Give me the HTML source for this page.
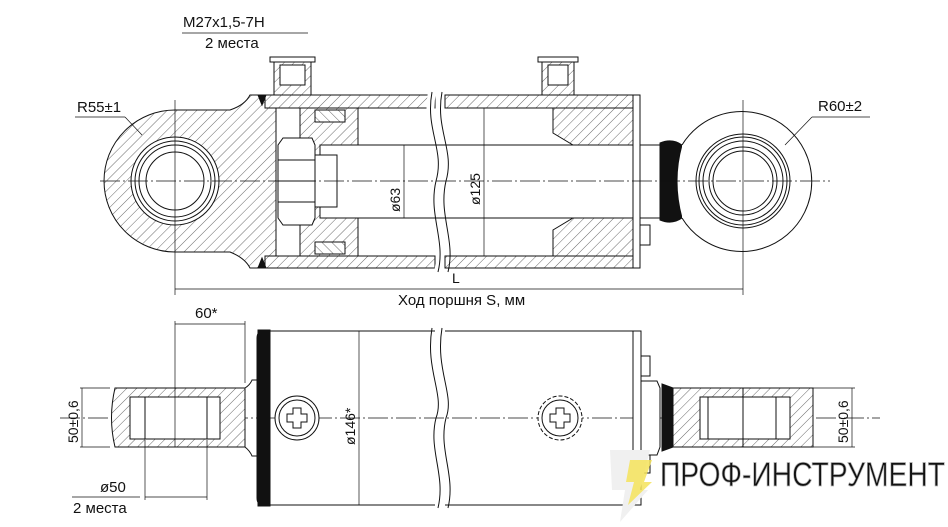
<!DOCTYPE html>
<html><head><meta charset="utf-8"><style>
html,body{margin:0;padding:0;background:#fff}
svg{display:block}
text{font-family:"Liberation Sans Narrow","Liberation Sans",sans-serif;fill:#111}
</style></head><body>
<svg width="948" height="527" viewBox="0 0 948 527" xmlns="http://www.w3.org/2000/svg">
<defs>
<pattern id="h" width="7" height="7" patternUnits="userSpaceOnUse" patternTransform="rotate(45)">
<rect width="7" height="7" fill="#fff"/><line x1="0" y1="0" x2="0" y2="7" stroke="#444" stroke-width="0.8"/></pattern>
<pattern id="h2" width="7" height="7" patternUnits="userSpaceOnUse" patternTransform="rotate(-45)">
<rect width="7" height="7" fill="#fff"/><line x1="0" y1="0" x2="0" y2="7" stroke="#444" stroke-width="0.8"/></pattern>
</defs>
<g stroke="#111" stroke-width="1" fill="none">
<path d="M276,95 L250,95 Q245,105 230,110 L175,110 A71,71 0 0 0 175,252 L230,252 Q245,258 250,268 L276,268 Z" fill="url(#h)"/>
<circle cx="175" cy="181" r="44" fill="#fff"/>
<circle cx="175" cy="181" r="40"/><circle cx="175" cy="181" r="36"/><circle cx="175" cy="181" r="29"/>
<rect x="265" y="95" width="170" height="13" fill="url(#h)"/>
<rect x="445" y="95" width="195" height="13" fill="url(#h)"/>
<rect x="265" y="256" width="170" height="12" fill="url(#h)"/>
<rect x="445" y="256" width="195" height="12" fill="url(#h)"/>
<path d="M432,92 C425,130 445,150 436,181 C428,215 446,240 438,272" stroke="#fff" stroke-width="8"/>
<path d="M432,92 C425,130 445,150 436,181 C428,215 446,240 438,272"/>
<path d="M442,92 C435,130 455,150 446,181 C438,215 456,240 448,272"/>
<path d="M300,108 L358,108 L358,145 L320,145 L320,218 L358,218 L358,256 L300,256 Z" fill="url(#h)"/>
<rect x="315" y="110" width="30" height="12" fill="url(#h2)"/>
<rect x="315" y="242" width="30" height="12" fill="url(#h2)"/>
<path d="M278,145 L283,138 L312,138 L315,145 L315,218 L312,225 L283,225 L278,218 Z" fill="#fff"/>
<line x1="278" y1="160" x2="315" y2="160"/><line x1="278" y1="181" x2="315" y2="181"/><line x1="278" y1="202" x2="315" y2="202"/>
<rect x="315" y="155" width="22" height="52" fill="#fff"/>
<line x1="340" y1="145" x2="660" y2="145"/><line x1="340" y1="218" x2="660" y2="218"/>
<path d="M553,108 L633,108 L633,256 L553,256 L553,230 L573,218 L633,218 L633,145 L573,145 L553,133 Z" fill="url(#h)"/>
<rect x="633" y="95" width="7" height="173" fill="#fff"/>
<rect x="640" y="225" width="10" height="20" fill="#fff"/>
<path d="M660,143 Q672,138 682,145 Q672,181 682,218 Q672,225 660,220 Z" fill="#111"/>
<path d="M682,145 A70,70 0 1 1 682,218" fill="#fff"/>
<circle cx="743" cy="181" r="47"/><circle cx="743" cy="181" r="44"/><circle cx="743" cy="181" r="40"/><circle cx="743" cy="181" r="34"/><circle cx="743" cy="181" r="30"/>
<rect x="270" y="57" width="45" height="5" fill="#fff"/>
<rect x="274" y="62" width="37" height="33" fill="url(#h)"/>
<rect x="280" y="65" width="25" height="20" fill="#fff"/>
<rect x="538" y="57" width="40" height="5" fill="#fff"/>
<rect x="542" y="62" width="32" height="33" fill="url(#h)"/>
<rect x="548" y="65" width="20" height="20" fill="#fff"/>
<path d="M258,95 l8,0 l-4,10 z M258,268 l8,0 l-4,-10 z" fill="#111"/>
<line x1="100" y1="181" x2="830" y2="181" stroke-dasharray="20,3,2,3" stroke-width="0.7"/>
<line x1="175" y1="100" x2="175" y2="295" stroke-width="0.7"/>
<line x1="743" y1="100" x2="743" y2="295" stroke-width="0.7"/>
<line x1="404" y1="145" x2="404" y2="218" stroke-width="0.7"/>
<line x1="484" y1="108" x2="484" y2="256" stroke-width="0.7"/>
<line x1="175" y1="289" x2="743" y2="289" stroke-width="0.7"/>
<line x1="75" y1="117" x2="125" y2="117" stroke-width="0.7"/><line x1="125" y1="117" x2="142" y2="135" stroke-width="0.7"/>
<line x1="812" y1="117" x2="870" y2="117" stroke-width="0.7"/><line x1="812" y1="117" x2="785" y2="145" stroke-width="0.7"/>
<line x1="182" y1="33" x2="308" y2="33" stroke-width="0.7"/>

<line x1="60" y1="418" x2="880" y2="418" stroke-dasharray="20,3,2,3" stroke-width="0.7"/>
<path d="M268,331 L264,331 Q257,331 257,338 L257,498 Q257,505 264,505 L268,505"/>
<line x1="270" y1="331" x2="435" y2="331"/><line x1="270" y1="505" x2="435" y2="505"/>
<line x1="445" y1="331" x2="633" y2="331"/><line x1="445" y1="505" x2="633" y2="505"/>
<path d="M432,328 C425,370 445,395 436,418 C428,450 446,475 438,508"/>
<path d="M442,328 C435,370 455,395 446,418 C438,450 456,475 448,508"/>
<rect x="258" y="330" width="12" height="176" fill="#111"/>
<rect x="633" y="331" width="8" height="174" fill="#fff"/>
<rect x="641" y="356" width="9" height="20" fill="#fff"/><rect x="641" y="453" width="9" height="20" fill="#fff"/>
<path d="M641,381 L657,381 L660,388 L660,447 L657,455 L641,455 Z" fill="#fff"/>
<path d="M662,384 L673,388 L673,447 L662,451 Z" fill="#111"/>
<rect x="673" y="388" width="140" height="59" fill="url(#h)"/>
<rect x="700" y="397" width="90" height="42" fill="#fff"/>
<rect x="708" y="397" width="68" height="42" fill="#fff"/>
<line x1="743" y1="388" x2="743" y2="447"/>
<path d="M245,388 L115,388 Q108,418 115,447 L245,447 Z" fill="url(#h)"/>
<rect x="130" y="397" width="90" height="42" fill="#fff"/>
<rect x="145" y="397" width="62" height="42" fill="#fff"/>
<path d="M245,388 Q250,385 252,380 L257,380 M245,447 Q250,451 252,456 L257,456"/>
<circle cx="297" cy="418" r="22" fill="#fff"/><circle cx="297" cy="418" r="18"/>
<path d="M293,408 h8 v6 h6 v8 h-6 v6 h-8 v-6 h-6 v-8 h6 z"/>
<circle cx="560" cy="418" r="22" fill="#fff" stroke-dasharray="4,2"/><circle cx="560" cy="418" r="18"/>
<path d="M556,408 h8 v6 h6 v8 h-6 v6 h-8 v-6 h-6 v-8 h6 z"/>
<line x1="359" y1="331" x2="359" y2="505" stroke-width="0.7"/>
<line x1="175" y1="321" x2="175" y2="447" stroke-width="0.7"/><line x1="245" y1="321" x2="245" y2="383" stroke-width="0.7"/>
<line x1="175" y1="324" x2="245" y2="324" stroke-width="0.7"/>
<line x1="80" y1="388" x2="110" y2="388" stroke-width="0.7"/><line x1="80" y1="447" x2="110" y2="447" stroke-width="0.7"/>
<line x1="82" y1="388" x2="82" y2="447" stroke-width="0.7"/>
<line x1="813" y1="388" x2="855" y2="388" stroke-width="0.7"/><line x1="813" y1="447" x2="855" y2="447" stroke-width="0.7"/>
<line x1="852" y1="388" x2="852" y2="447" stroke-width="0.7"/>
<line x1="145" y1="440" x2="145" y2="500" stroke-width="0.7"/><line x1="207" y1="440" x2="207" y2="500" stroke-width="0.7"/>
<line x1="145" y1="497" x2="207" y2="497" stroke-width="0.7"/>
<line x1="72" y1="497" x2="140" y2="497" stroke-width="0.7"/>
</g>
<text x="183" y="27" font-size="15">M27x1,5-7H</text>
<text x="205" y="48" font-size="15">2 места</text>
<text x="77" y="112" font-size="15">R55±1</text>
<text x="818" y="111" font-size="15">R60±2</text>
<text x="452" y="283" font-size="14">L</text>
<text x="398" y="305" font-size="15">Ход поршня S, мм</text>
<text x="195" y="318" font-size="15">60*</text>
<text x="100" y="492" font-size="15">ø50</text>
<text x="73" y="513" font-size="15">2 места</text>
<text transform="translate(400,212) rotate(-90)" font-size="14">ø63</text>
<text transform="translate(480,205) rotate(-90)" font-size="14">ø125</text>
<text transform="translate(355,445) rotate(-90)" font-size="14">ø146*</text>
<text transform="translate(78,443) rotate(-90)" font-size="14">50±0,6</text>
<text transform="translate(848,443) rotate(-90)" font-size="14">50±0,6</text>
<path d="M610,450 L650,450 L640,490 L648,490 L620,522 L625,490 L612,490 Z" fill="#f0f0f0"/>
<path d="M630,460 L652,460 L644,482 L652,482 L628,505 L634,482 L626,482 Z" fill="#f4e35a" opacity="0.85"/>
<text x="660" y="486" font-size="34" fill="#fff" stroke="#b8b8b8" stroke-width="0.8" textLength="285" lengthAdjust="spacingAndGlyphs">ПРОФ-ИНСТРУМЕНТ</text>
</svg>
</body></html>
